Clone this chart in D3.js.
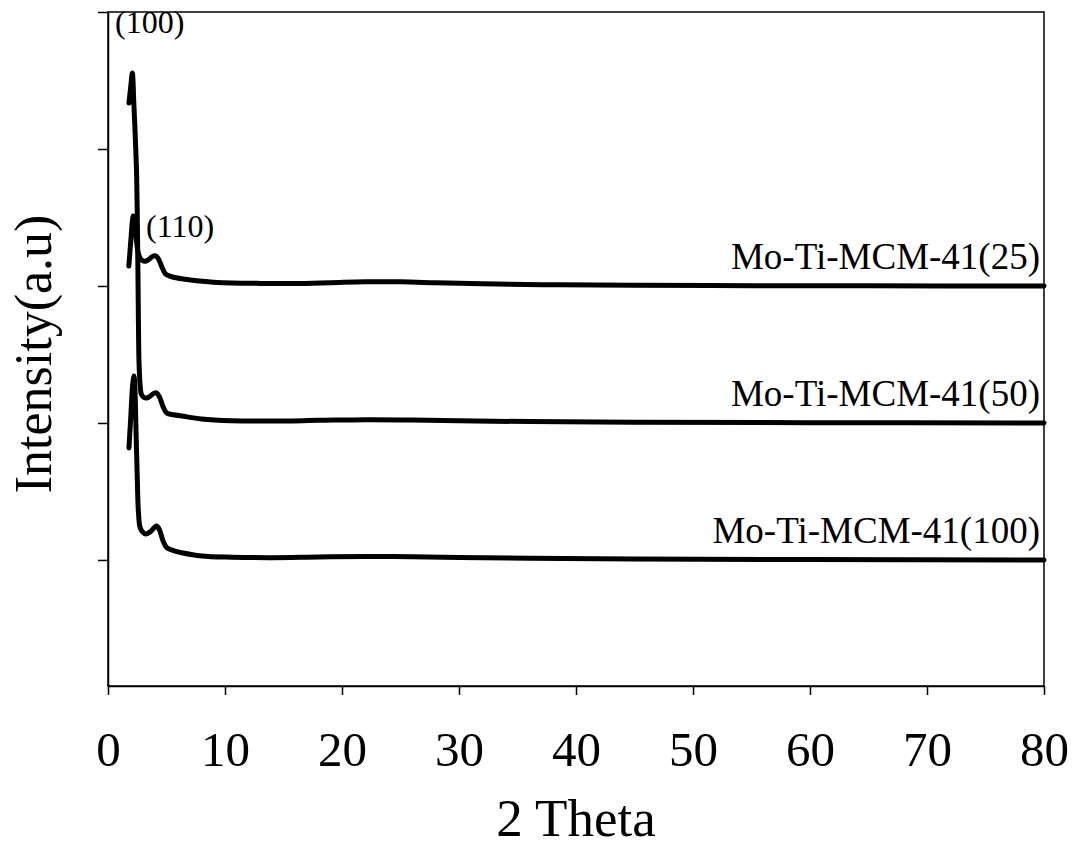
<!DOCTYPE html>
<html>
<head>
<meta charset="utf-8">
<script src="https://cdn.jsdelivr.net/npm/d3@7"></script>
<style>
    body { margin: 0; background: #fff; }
    text { font-family: "Liberation Serif", "Times New Roman", serif; fill: #000; }
</style>
</head>
<body>
<svg id="chart"></svg>
<script>
// series names, vertical offsets (one y tick per series)
const seriesNames = ['Mo-Ti-MCM-41(25)', 'Mo-Ti-MCM-41(50)', 'Mo-Ti-MCM-41(100)']
const seriesOffsets = [2, 1, 0]

// [2 theta, intensity above own baseline]
const mcm25 = [[1.78, 0.146], [1.95, 0.33], [2.08, 0.47], [2.16, 0.51], [2.26, 0.47], [2.4, 0.36], [2.56, 0.25],
    [2.74, 0.205], [2.95, 0.185], [3.2, 0.18], [3.5, 0.195], [3.8, 0.215], [4.05, 0.22], [4.3, 0.2], [4.6, 0.14],
    [4.9, 0.09], [5.3, 0.072], [5.8, 0.06], [6.8, 0.047], [7.8, 0.036], [9, 0.028], [10.6, 0.022], [13, 0.019],
    [16, 0.018], [19, 0.024], [22, 0.031], [25, 0.03], [28, 0.024], [32, 0.016], [38, 0.009], [45, 0.005],
    [55, 0.002], [65, 0.001], [80, 0]]

const mcm50 = [[1.79, 2.336], [1.95, 2.46], [2.08, 2.555], [2.2, 2.35], [2.35, 2.05], [2.45, 1.8], [2.54, 1.255],
    [2.6, 0.745], [2.65, 0.45], [2.75, 0.27], [2.85, 0.21], [3.1, 0.185], [3.31, 0.182], [3.6, 0.195], [3.9, 0.215],
    [4.16, 0.219], [4.4, 0.19], [4.7, 0.12], [5.02, 0.073], [5.6, 0.06], [6.3, 0.051], [8, 0.029], [10.6, 0.016],
    [14, 0.014], [18, 0.019], [22, 0.024], [26, 0.022], [30, 0.016], [36, 0.01], [45, 0.005], [60, 0.002], [80, 0]]

const mcm100 = [[1.79, 0.818], [1.95, 1.05], [2.1, 1.27], [2.22, 1.343], [2.3, 1.25], [2.38, 1.0], [2.5, 0.6],
    [2.6, 0.35], [2.75, 0.235], [3.0, 0.2], [3.2, 0.19], [3.6, 0.205], [4.0, 0.24], [4.16, 0.248], [4.4, 0.22],
    [4.7, 0.14], [5.02, 0.09], [5.6, 0.068], [6.3, 0.053], [8, 0.029], [10.6, 0.02], [14, 0.017], [18, 0.022],
    [22, 0.026], [26, 0.024], [30, 0.018], [36, 0.012], [45, 0.007], [60, 0.003], [80, 0]]

const xTicks = [0, 10, 20, 30, 40, 50, 60, 70, 80]
const yTicks = [0, 1, 2, 3, 4]
const peakLabels = [{text: '(100)', x: 0.6, y: 3.85}, {text: '(110)', x: 3.25, y: 2.36}]

class XrdChart {

    constructor(_config, _data) {
        this.config = {
            parentElement: _config.parentElement,
            containerWidth: 1073,
            containerHeight: 849,
            margin: {top: 12, right: 29, bottom: 163, left: 108}
        }
        this.data = _data
        this.initVis()
    }

    initVis() {
        let vis = this

        vis.chart_width = vis.config.containerWidth - vis.config.margin.left - vis.config.margin.right
        vis.chart_height = vis.config.containerHeight - vis.config.margin.top - vis.config.margin.bottom

        vis.svg = d3.select(vis.config.parentElement)
            .attr('width', vis.config.containerWidth)
            .attr('height', vis.config.containerHeight)

        vis.chart = vis.svg.append('g')
            .attr('transform', `translate(${vis.config.margin.left},${vis.config.margin.top})`)

        vis.xScale = d3.scaleLinear()
            .domain([0, 80])
            .range([0, vis.chart_width])

        vis.yScale = d3.scaleLinear()
            .domain([-0.92, 4])
            .range([vis.chart_height, 0])

        vis.xAxis = d3.axisBottom(vis.xScale)
            .tickValues(xTicks)
            .tickSizeInner(9)
            .tickSizeOuter(0)
            .tickPadding(36)

        vis.yAxis = d3.axisLeft(vis.yScale)
            .tickValues(yTicks)
            .tickSizeInner(10)
            .tickSizeOuter(0)
            .tickFormat('')

        vis.renderVis()
    }

    renderVis() {
        let vis = this

        // frame
        vis.chart.append('rect')
            .attr('width', vis.chart_width)
            .attr('height', vis.chart_height)
            .attr('fill', 'none')
            .attr('stroke', '#000')
            .attr('stroke-width', 1.5)

        let xAxisG = vis.chart.append('g')
            .attr('transform', `translate(0,${vis.chart_height})`)
            .call(vis.xAxis)
        xAxisG.selectAll('line, path').attr('stroke', '#000').attr('stroke-width', 1.5)
        xAxisG.selectAll('text')
            .style('font-family', '"Liberation Serif", serif')
            .attr('font-size', 49)
            .attr('fill', '#000')

        let yAxisG = vis.chart.append('g')
            .call(vis.yAxis)
        yAxisG.selectAll('line, path').attr('stroke', '#000').attr('stroke-width', 1.5)

        let line = d3.line()
            .x(d => vis.xScale(d[0]))
            .y(d => vis.yScale(d[1] + d.offset))
            .curve(d3.curveCatmullRom.alpha(0.5))

        vis.data.forEach((s, i) => {
            let pts = s.values.map(v => {
                let p = [v[0], v[1]]
                p.offset = s.offset
                return p
            })
            vis.chart.append('path')
                .datum(pts)
                .attr('fill', 'none')
                .attr('stroke', '#000')
                .attr('stroke-width', 5)
                .attr('stroke-linejoin', 'round')
                .attr('stroke-linecap', 'round')
                .attr('d', line)

            vis.chart.append('text')
                .attr('x', vis.chart_width - 4)
                .attr('y', vis.yScale(s.offset) - 17)
                .attr('text-anchor', 'end')
                .attr('font-size', 37)
                .text(s.name)
        })

        vis.chart.selectAll('.peak')
            .data(peakLabels)
            .join('text')
            .attr('class', 'peak')
            .attr('x', d => vis.xScale(d.x))
            .attr('y', d => vis.yScale(d.y))
            .attr('font-size', 32)
            .text(d => d.text)

        vis.svg.append('text')
            .attr('x', vis.config.margin.left + vis.chart_width / 2)
            .attr('y', 836)
            .attr('text-anchor', 'middle')
            .attr('font-size', 53)
            .text('2 Theta')

        vis.svg.append('text')
            .attr('transform', `translate(51,${vis.config.margin.top + vis.chart_height / 2 + 5}) rotate(-90)`)
            .attr('text-anchor', 'middle')
            .attr('font-size', 52)
            .text('Intensity(a.u)')
    }
}

let chart = new XrdChart({parentElement: '#chart'}, [
    {name: seriesNames[0], offset: seriesOffsets[0], values: mcm25},
    {name: seriesNames[1], offset: seriesOffsets[1], values: mcm50},
    {name: seriesNames[2], offset: seriesOffsets[2], values: mcm100}
])
</script>
</body>
</html>
